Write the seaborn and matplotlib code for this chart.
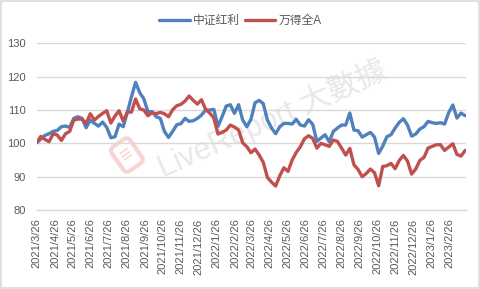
import pandas as pd
import matplotlib.pyplot as plt
import seaborn as sns
from matplotlib.patches import Rectangle

# ============================
# DADOS (semanal, base 100)
# ============================
BLUE = "#4F81BD"
RED = "#C0504D"
GRAY = "#595959"
GRID = "#D9D9D9"

start_date = "2021-03-26"
n_weeks = 105

csi_dividend = [
    100.2, 101.3, 102.4, 102.9, 103.6, 103.9, 105.0, 105.2, 104.8, 107.5,
    108.0, 107.5, 104.7, 107.0, 106.0, 105.2, 106.4, 104.8, 101.7, 102.0,
    105.8, 105.0, 109.3, 114.0, 118.3, 115.2, 113.4, 109.5, 109.5, 108.0,
    107.5, 103.6, 101.8, 103.6, 105.6, 105.9, 107.5, 106.6, 106.8, 107.5,
    108.5, 110.0, 110.0, 110.2, 105.1, 108.0, 111.2, 111.6, 109.0, 111.6,
    107.0, 105.0, 107.2, 112.2, 112.9, 111.9, 107.0, 104.6, 102.9, 105.0,
    106.0, 106.0, 105.8, 107.2, 105.5, 105.2, 107.1, 105.7, 100.6, 101.6,
    102.6, 100.5, 103.6, 104.6, 105.5, 105.5, 109.1, 104.0, 103.8, 101.9,
    102.6, 103.3, 101.9, 97.0, 99.2, 102.0, 102.6, 104.6, 106.3, 107.4,
    105.5, 102.2, 102.8, 104.3, 105.0, 106.6, 106.2, 106.0, 106.2, 105.8,
    109.2, 111.5, 107.6, 109.1, 108.3,
]

wind_all_a = [
    100.2, 102.1, 101.2, 100.5, 102.9, 102.5, 100.9, 102.9, 103.6, 107.0,
    107.3, 107.3, 106.0, 108.9, 107.0, 108.1, 109.0, 109.8, 106.1, 108.2,
    109.8, 106.7, 109.4, 109.4, 113.3, 110.4, 110.0, 108.3, 109.2, 108.9,
    109.3, 108.9, 108.0, 110.1, 111.3, 111.7, 112.7, 114.2, 112.9, 111.8,
    113.1, 110.2, 109.1, 107.6, 102.8, 103.3, 104.0, 105.5, 104.9, 104.0,
    100.2, 99.0, 97.2, 98.3, 96.5, 94.3, 89.8, 88.4, 87.2, 90.3,
    92.7, 91.6, 95.0, 97.3, 99.0, 101.4, 102.3, 101.5, 98.6, 100.0,
    99.6, 99.1, 101.0, 100.6, 98.6, 96.5, 98.5, 93.6, 92.2, 90.0,
    91.0, 92.3, 91.2, 87.3, 93.1, 93.3, 94.0, 92.4, 94.9, 96.4,
    94.7, 90.8, 92.3, 94.9, 95.8, 98.6, 99.1, 99.6, 99.6, 97.9,
    98.9, 99.9, 96.7, 96.2, 97.9,
]

series_names = ["中证红利", "万得全A"]
y_ticks = [80, 90, 100, 110, 120, 130]

dates = pd.date_range(start_date, periods=n_weeks, freq="7D")
tick_dates = pd.date_range("2021-03-26", "2023-02-26", freq=pd.DateOffset(months=1))

# ============================
# GRÁFICO
# ============================
sns.set_style("white")
plt.rcParams["font.family"] = ["Liberation Sans", "Noto Sans CJK SC", "DejaVu Sans"]

fig = plt.figure(figsize=(4.81, 2.89), dpi=100)
ax = fig.add_axes([0.0763, 0.273, 0.892, 0.577])

# marca d'água
ax.text(0.55, 0.55, "LiveReport 大數據", transform=ax.transAxes, rotation=24,
        fontsize=22, color="#E8E8E8", ha="center", va="center", zorder=0,
        family=["Liberation Sans", "Noto Sans CJK TC"])
ax.text(0.21, 0.33, "≡", transform=ax.transAxes, rotation=35, fontsize=15,
        color="#F8D5D2", ha="center", va="center", zorder=0,
        bbox=dict(boxstyle="round,pad=0.25", fc="none", ec="#F8D5D2", lw=3))

sns.lineplot(x=dates, y=csi_dividend, color=BLUE, lw=2.4, label=series_names[0], ax=ax, zorder=3)
sns.lineplot(x=dates, y=wind_all_a, color=RED, lw=2.4, label=series_names[1], ax=ax, zorder=3)

ax.set_ylim(80, 130)
ax.set_yticks(y_ticks)
ax.set_xlim(dates[0], dates[-1] + pd.Timedelta(days=1))
ax.set_xticks(tick_dates)
ax.set_xticklabels([f"{d.year}/{d.month}/{d.day}" for d in tick_dates], rotation=90)
ax.set_xlabel("")
ax.set_ylabel("")
ax.grid(axis="y", color=GRID, lw=1)
ax.set_axisbelow(True)

for s in ["top", "right", "left"]:
    ax.spines[s].set_visible(False)
ax.spines["bottom"].set_color(GRID)
ax.spines["bottom"].set_linewidth(1)
ax.tick_params(axis="x", colors=GRID, length=4, width=1, labelcolor=GRAY, labelsize=8, pad=2)
ax.tick_params(axis="y", length=0, labelcolor=GRAY, labelsize=8, pad=8)

ax.legend_.remove()
handles, labels = ax.get_legend_handles_labels()
fig.legend(handles, labels, loc="upper center", bbox_to_anchor=(0.5, 0.985), ncol=2,
           frameon=False, fontsize=8.5, handlelength=2.6, columnspacing=0.4,
           handletextpad=0.3, labelcolor=GRAY)

fig.patches.append(Rectangle((0.002, 0.003), 0.994, 0.993, transform=fig.transFigure,
                             fill=False, ec=GRID, lw=1.2))

plt.savefig("out.png", dpi=100)
